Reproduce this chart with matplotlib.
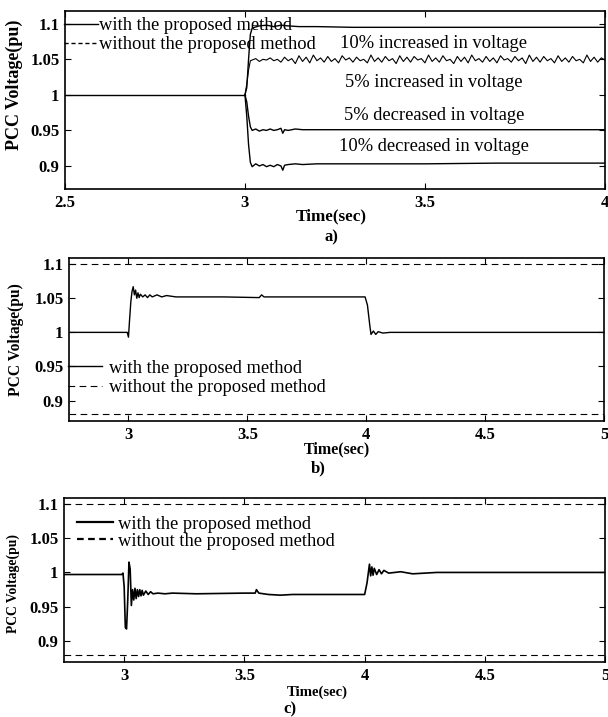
import numpy as np
import matplotlib
matplotlib.use('Agg')
import matplotlib.pyplot as plt

plt.rcParams['font.family'] = ['Liberation Serif', 'DejaVu Serif']

# ---- panel a) : step changes at t = 3 s
t_a_before = [2.5, 3.0]
v_a_before = [1.0, 1.0]

t_inc10 = [3.0, 3.005, 3.01, 3.015, 3.02, 3.04, 3.06, 3.08, 3.1, 3.12, 3.15, 3.2, 3.3, 3.5, 3.7, 3.9, 4.0]
v_inc10 = [1.0, 1.01, 1.05, 1.085, 1.094, 1.097, 1.098, 1.096, 1.098, 1.097, 1.096, 1.096, 1.095, 1.095, 1.095, 1.095, 1.095]

t_inc5_start = [3.0, 3.005, 3.01, 3.015]
v_inc5_start = [1.0, 1.015, 1.035, 1.048]
# noisy plateau, one sample per 10 ms from 3.02 s to 4.0 s
v_inc5_noise = [1.049, 1.051, 1.047, 1.050, 1.049, 1.052, 1.048, 1.050, 1.046, 1.053,
                1.048, 1.051, 1.044, 1.055, 1.047, 1.053, 1.045, 1.056, 1.048, 1.052,
                1.046, 1.054, 1.047, 1.051, 1.045, 1.055, 1.049, 1.052, 1.046, 1.053,
                1.048, 1.050, 1.045, 1.056, 1.047, 1.052, 1.046, 1.054, 1.048, 1.051,
                1.044, 1.055, 1.047, 1.053, 1.046, 1.054, 1.049, 1.051, 1.045, 1.056,
                1.047, 1.052, 1.046, 1.055, 1.048, 1.050, 1.044, 1.054, 1.047, 1.053,
                1.045, 1.056, 1.048, 1.051, 1.046, 1.054, 1.047, 1.052, 1.045, 1.055,
                1.049, 1.051, 1.046, 1.054, 1.048, 1.052, 1.044, 1.056, 1.047, 1.053,
                1.046, 1.054, 1.048, 1.051, 1.045, 1.055, 1.047, 1.052, 1.046, 1.054,
                1.048, 1.050, 1.045, 1.056, 1.047, 1.053, 1.046, 1.052, 1.049]

t_dec5 = [3.0, 3.005, 3.01, 3.015, 3.02, 3.03, 3.04, 3.05, 3.06, 3.07, 3.08, 3.09, 3.1, 3.105, 3.11, 3.12, 3.14, 3.16, 3.2, 3.3, 3.5, 3.7, 3.9, 4.0]
v_dec5 = [1.0, 0.99, 0.97, 0.955, 0.950, 0.952, 0.949, 0.951, 0.950, 0.952, 0.950, 0.951, 0.953, 0.946, 0.951, 0.950, 0.952, 0.951, 0.951, 0.951, 0.951, 0.951, 0.951, 0.951]

t_dec10 = [3.0, 3.005, 3.01, 3.015, 3.02, 3.03, 3.04, 3.05, 3.06, 3.07, 3.08, 3.09, 3.1, 3.105, 3.11, 3.12, 3.14, 3.16, 3.2, 3.3, 3.5, 3.7, 3.9, 4.0]
v_dec10 = [1.0, 0.97, 0.93, 0.905, 0.899, 0.903, 0.900, 0.902, 0.899, 0.901, 0.899, 0.902, 0.900, 0.894, 0.901, 0.902, 0.903, 0.902, 0.903, 0.903, 0.903, 0.904, 0.904, 0.904]

labels_a = ['10% increased in voltage', '5% increased in voltage',
            '5% decreased in voltage', '10% decreased in voltage']

# ---- panel b) : +5% from 3 s to 4 s
t_b = [2.75, 2.995, 3.0, 3.005, 3.01, 3.015, 3.02, 3.025, 3.03, 3.035, 3.04, 3.045, 3.05, 3.06, 3.07, 3.08,
       3.09, 3.1, 3.12, 3.14, 3.16, 3.2, 3.3, 3.4, 3.55, 3.56, 3.57, 3.7, 3.9, 3.995, 4.005, 4.015, 4.02,
       4.03, 4.04, 4.05, 4.07, 4.1, 4.2, 4.5, 4.8, 5.0]
v_b = [1.0, 1.0, 0.993, 1.02, 1.045, 1.06, 1.067, 1.055, 1.062, 1.05, 1.058, 1.051, 1.056, 1.052, 1.055, 1.051,
       1.055, 1.052, 1.055, 1.052, 1.054, 1.052, 1.052, 1.052, 1.051, 1.055, 1.052, 1.052, 1.052, 1.052, 1.04, 1.01, 0.997,
       1.002, 0.997, 1.001, 0.999, 1.0, 1.0, 1.0, 1.0, 1.0]

# ---- panel c) : -3% sag from 3 s to 4 s
t_c = [2.75, 2.99, 2.995, 3.0, 3.005, 3.01, 3.015, 3.02, 3.025, 3.03, 3.035, 3.04, 3.045, 3.05, 3.055, 3.06,
       3.065, 3.07, 3.075, 3.08, 3.09, 3.1, 3.11, 3.12, 3.14, 3.17, 3.2, 3.3, 3.5, 3.545, 3.55, 3.56, 3.6,
       3.65, 3.7, 3.9, 4.0, 4.01, 4.02, 4.025, 4.03, 4.035, 4.04, 4.05, 4.06, 4.07, 4.08, 4.1, 4.15, 4.2,
       4.25, 4.3, 4.4, 4.6, 4.8, 5.0]
v_c = [0.997, 0.997, 0.999, 0.98, 0.92, 0.918, 0.96, 1.015, 1.005, 0.952, 0.975, 0.96, 0.977, 0.962, 0.975, 0.965,
       0.975, 0.966, 0.974, 0.967, 0.973, 0.968, 0.972, 0.969, 0.970, 0.969, 0.970, 0.969, 0.970, 0.970, 0.975, 0.970, 0.968,
       0.967, 0.968, 0.968, 0.968, 0.985, 1.012, 0.995, 1.008, 0.996, 1.006, 0.997, 1.004, 0.998, 1.003, 0.999, 1.001, 0.998,
       0.999, 1.0, 1.0, 1.0, 1.0, 1.0]

limit_hi = 1.1
limit_lo = 0.88

yticks = [0.9, 0.95, 1.0, 1.05, 1.1]
ytick_labels = ['0.9', '0.95', '1', '1.05', '1.1']
xticks_a = [2.5, 3.0, 3.5, 4.0]
xtick_labels_a = ['2.5', '3', '3.5', '4']
xticks_bc = [3.0, 3.5, 4.0, 4.5, 5.0]
xtick_labels_bc = ['3', '3.5', '4', '4.5', '5']


def style_axes(ax, xticks, xlabels, ylab_size, ylab_pos, xlab_size, xlab_pos):
  ax.set_yticks(yticks)
  ax.set_yticklabels(ytick_labels, fontweight='bold', fontsize=12)
  ax.set_xticks(xticks)
  ax.set_xticklabels(xlabels, fontweight='bold', fontsize=12)
  ax.tick_params(direction='in', top=True, right=True, length=4, width=0.8, pad=4)
  for s in ax.spines.values():
    s.set_linewidth(1.2)
  ax.set_ylabel('PCC Voltage(pu)', fontweight='bold', fontsize=ylab_size, va='center')
  ax.yaxis.set_label_coords(*ylab_pos)
  ax.set_xlabel('Time(sec)', fontweight='bold', fontsize=xlab_size, va='center')
  ax.xaxis.set_label_coords(*xlab_pos)


fig = plt.figure(figsize=(6.08, 7.17), dpi=100)
lw = 1.0

# a)
ax1 = fig.add_axes([0.1069, 0.7364, 0.888, 0.2483])
ax1.plot(t_a_before, v_a_before, color='black', lw=lw, label='with the proposed method')
ax1.plot([], [], color='black', lw=lw, ls='--', dashes=(3, 2), label='without the proposed method')
ax1.plot(t_inc10, v_inc10, color='black', lw=lw)
t_inc5 = t_inc5_start + list(np.linspace(3.02, 4.0, len(v_inc5_noise)))
ax1.plot(t_inc5, v_inc5_start + v_inc5_noise, color='black', lw=0.8)
ax1.plot(t_dec5, v_dec5, color='black', lw=lw)
ax1.plot(t_dec10, v_dec10, color='black', lw=lw)
ax1.set_xlim(2.5, 4.0)
ax1.set_ylim(0.8676, 1.118)
style_axes(ax1, xticks_a, xtick_labels_a, 13.0, (-0.093, 0.584), 12.3, (0.494, -0.152))
for lab, yy in zip(labels_a, [0.82, 0.60, 0.415, 0.237]):
  ax1.text(0.683, yy, lab, transform=ax1.transAxes, ha='center', va='center', fontsize=13.3)
ax1.legend(loc='upper left', bbox_to_anchor=(-0.008, 0.985), frameon=False, fontsize=13.3,
           handlelength=1.8, handletextpad=0.05, labelspacing=0.1, borderpad=0.2, borderaxespad=0)

# b)
ax2 = fig.add_axes([0.1135, 0.4128, 0.880, 0.2273])
ax2.plot(t_b, v_b, color='black', lw=lw, label='with the proposed method')
ax2.axhline(limit_hi, color='black', lw=0.8, ls='--', dashes=(6, 4), label='without the proposed method')
ax2.axhline(limit_lo, color='black', lw=0.8, ls='--', dashes=(6, 4))
ax2.set_xlim(2.75, 5.0)
ax2.set_ylim(0.870, 1.109)
style_axes(ax2, xticks_bc, xtick_labels_bc, 11.2, (-0.10, 0.50), 11.5, (0.50, -0.172))
ax2.legend(loc='upper left', bbox_to_anchor=(-0.008, 0.40), frameon=False, fontsize=13.3,
           handlelength=1.8, handletextpad=0.4, labelspacing=0.15, borderpad=0.2, borderaxespad=0)

# c)
ax3 = fig.add_axes([0.1053, 0.0767, 0.890, 0.2287])
ax3.plot(t_c, v_c, color='black', lw=1.2, label='with the proposed method')
ax3.axhline(limit_hi, color='black', lw=0.8, ls='--', dashes=(6, 4))
ax3.axhline(limit_lo, color='black', lw=0.8, ls='--', dashes=(6, 4))
ax3.plot([], [], color='black', lw=1.6, ls='--', dashes=(3, 2), label='without the proposed method')
ax3.plot([], [], color='black', lw=1.6)
ax3.set_xlim(2.75, 5.0)
ax3.set_ylim(0.870, 1.108)
style_axes(ax3, xticks_bc, xtick_labels_bc, 9.8, (-0.093, 0.48), 10.6, (0.468, -0.183))
h, l = ax3.get_legend_handles_labels()
h[0] = ax3.lines[-1]
ax3.legend(h, l, loc='upper left', bbox_to_anchor=(0.018, 0.915), frameon=False, fontsize=13.3,
           handlelength=1.9, handletextpad=0.3, labelspacing=0.0, borderpad=0.2, borderaxespad=0)

fig.text(331 / 608, 1 - 237 / 717, 'a)', ha='center', va='center', fontweight='bold', fontsize=12)
fig.text(318 / 608, 1 - 468 / 717, 'b)', ha='center', va='center', fontweight='bold', fontsize=12)
fig.text(290 / 608, 1 - 709 / 717, 'c)', ha='center', va='center', fontweight='bold', fontsize=12)

fig.savefig('out.png', dpi=100)
